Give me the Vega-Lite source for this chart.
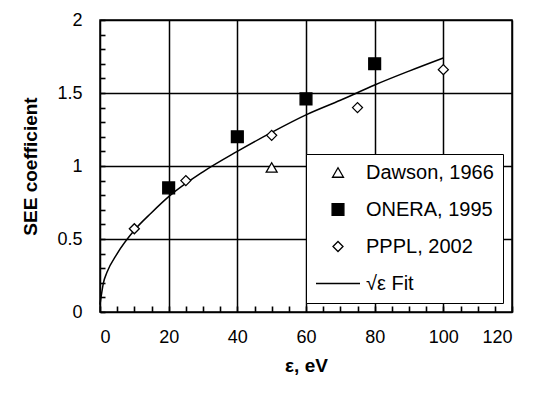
{
  "$schema": "https://vega.github.io/schema/vega-lite/v6.json",
  "width": 412,
  "height": 292,
  "autosize": {"type": "none"},
  "padding": {"left": 100, "top": 20, "right": 28, "bottom": 93},
  "background": "white",
  "datasets": {
    "pts": [
      {"x": 50, "y": 0.99, "series": "Dawson, 1966"},
      {"x": 20, "y": 0.85, "series": "ONERA, 1995"},
      {"x": 40, "y": 1.2, "series": "ONERA, 1995"},
      {"x": 60, "y": 1.46, "series": "ONERA, 1995"},
      {"x": 80, "y": 1.7, "series": "ONERA, 1995"},
      {"x": 10, "y": 0.57, "series": "PPPL, 2002"},
      {"x": 25, "y": 0.9, "series": "PPPL, 2002"},
      {"x": 50, "y": 1.21, "series": "PPPL, 2002"},
      {"x": 75, "y": 1.4, "series": "PPPL, 2002"},
      {"x": 100, "y": 1.66, "series": "PPPL, 2002"}
    ],
    "fit": [
      {"x": 0, "y": 0.05},
      {"x": 1, "y": 0.2},
      {"x": 2, "y": 0.27},
      {"x": 5, "y": 0.4},
      {"x": 10, "y": 0.56},
      {"x": 15, "y": 0.68},
      {"x": 20, "y": 0.79},
      {"x": 30, "y": 0.96},
      {"x": 40, "y": 1.1},
      {"x": 50, "y": 1.23},
      {"x": 60, "y": 1.35},
      {"x": 70, "y": 1.45},
      {"x": 80, "y": 1.555},
      {"x": 90, "y": 1.65},
      {"x": 100, "y": 1.74}
    ]
  },
  "config": {
    "font": "Liberation Sans",
    "view": {"stroke": "black", "strokeWidth": 1.5},
    "axis": {
      "labelFont": "Liberation Sans",
      "labelFontSize": 18,
      "labelColor": "black",
      "titleFont": "Liberation Sans",
      "titleFontSize": 19,
      "titleFontWeight": "bold",
      "titleColor": "black",
      "domain": false,
      "ticks": true,
      "tickColor": "black",
      "tickWidth": 1.6,
      "gridColor": "black",
      "gridWidth": 1.5
    },
    "legend": {
      "labelFont": "Liberation Sans",
      "labelFontSize": 20,
      "labelColor": "black",
      "title": null,
      "orient": "none",
      "legendX": 206,
      "legendY": 134,
      "fillColor": "white",
      "strokeColor": "black",
      "padding": 9,
      "rowPadding": 16,
      "labelOffset": 5,
      "clipHeight": 19,
      "symbolStrokeWidth": 1.3
    }
  },
  "encoding": {
    "x": {
      "field": "x", "type": "quantitative",
      "scale": {"domain": [0, 120], "nice": false},
      "axis": {
        "orient": "bottom",
        "values": [0,5,10,15,20,25,30,35,40,45,50,55,60,65,70,75,80,85,90,95,100,105,110,115,120],
        "labelExpr": "datum.value % 20 === 0 ? datum.label : ''",
        "offset": -6, "tickSize": 6, "labelPadding": 16,
        "grid": true,
        "gridOpacity": {"condition": {"test": "datum.value % 20 === 0", "value": 1}, "value": 0},
        "title": "ε, eV", "titlePadding": 10
      }
    },
    "y": {
      "field": "y", "type": "quantitative",
      "scale": {"domain": [0, 2], "nice": false},
      "axis": {
        "orient": "left",
        "values": [0,0.1,0.2,0.3,0.4,0.5,0.6,0.7,0.8,0.9,1,1.1,1.2,1.3,1.4,1.5,1.6,1.7,1.8,1.9,2],
        "labelExpr": "abs(datum.value*2 - round(datum.value*2)) < 0.001 ? format(datum.value, '~g') : ''",
        "offset": -5, "tickSize": 5, "labelPadding": 18,
        "grid": true,
        "gridOpacity": {"condition": {"test": "abs(datum.value*2 - round(datum.value*2)) < 0.001", "value": 1}, "value": 0},
        "title": "SEE coefficient", "titlePadding": 16
      }
    }
  },
  "layer": [
    {
      "data": {"name": "fit"},
      "mark": {"type": "line", "color": "black", "strokeWidth": 1.5, "interpolate": "monotone"}
    },
    {
      "data": {"name": "pts"},
      "mark": {"type": "point", "filled": true, "strokeWidth": 1.3, "opacity": 1},
      "encoding": {
        "shape": {
          "field": "series", "type": "nominal",
          "scale": {"domain": ["Dawson, 1966", "ONERA, 1995", "PPPL, 2002", "√ε Fit"], "range": ["triangle-up", "square", "diamond", "stroke"]}
        },
        "fill": {
          "field": "series", "type": "nominal",
          "scale": {"domain": ["Dawson, 1966", "ONERA, 1995", "PPPL, 2002", "√ε Fit"], "range": ["white", "black", "white", "black"]}
        },
        "stroke": {
          "field": "series", "type": "nominal",
          "scale": {"domain": ["Dawson, 1966", "ONERA, 1995", "PPPL, 2002", "√ε Fit"], "range": ["black", "black", "black", "black"]}
        },
        "size": {
          "field": "series", "type": "nominal",
          "scale": {"type": "ordinal", "domain": ["Dawson, 1966", "ONERA, 1995", "PPPL, 2002", "√ε Fit"], "range": [120, 140, 100, 1936]}
        }
      }
    }
  ]
}
